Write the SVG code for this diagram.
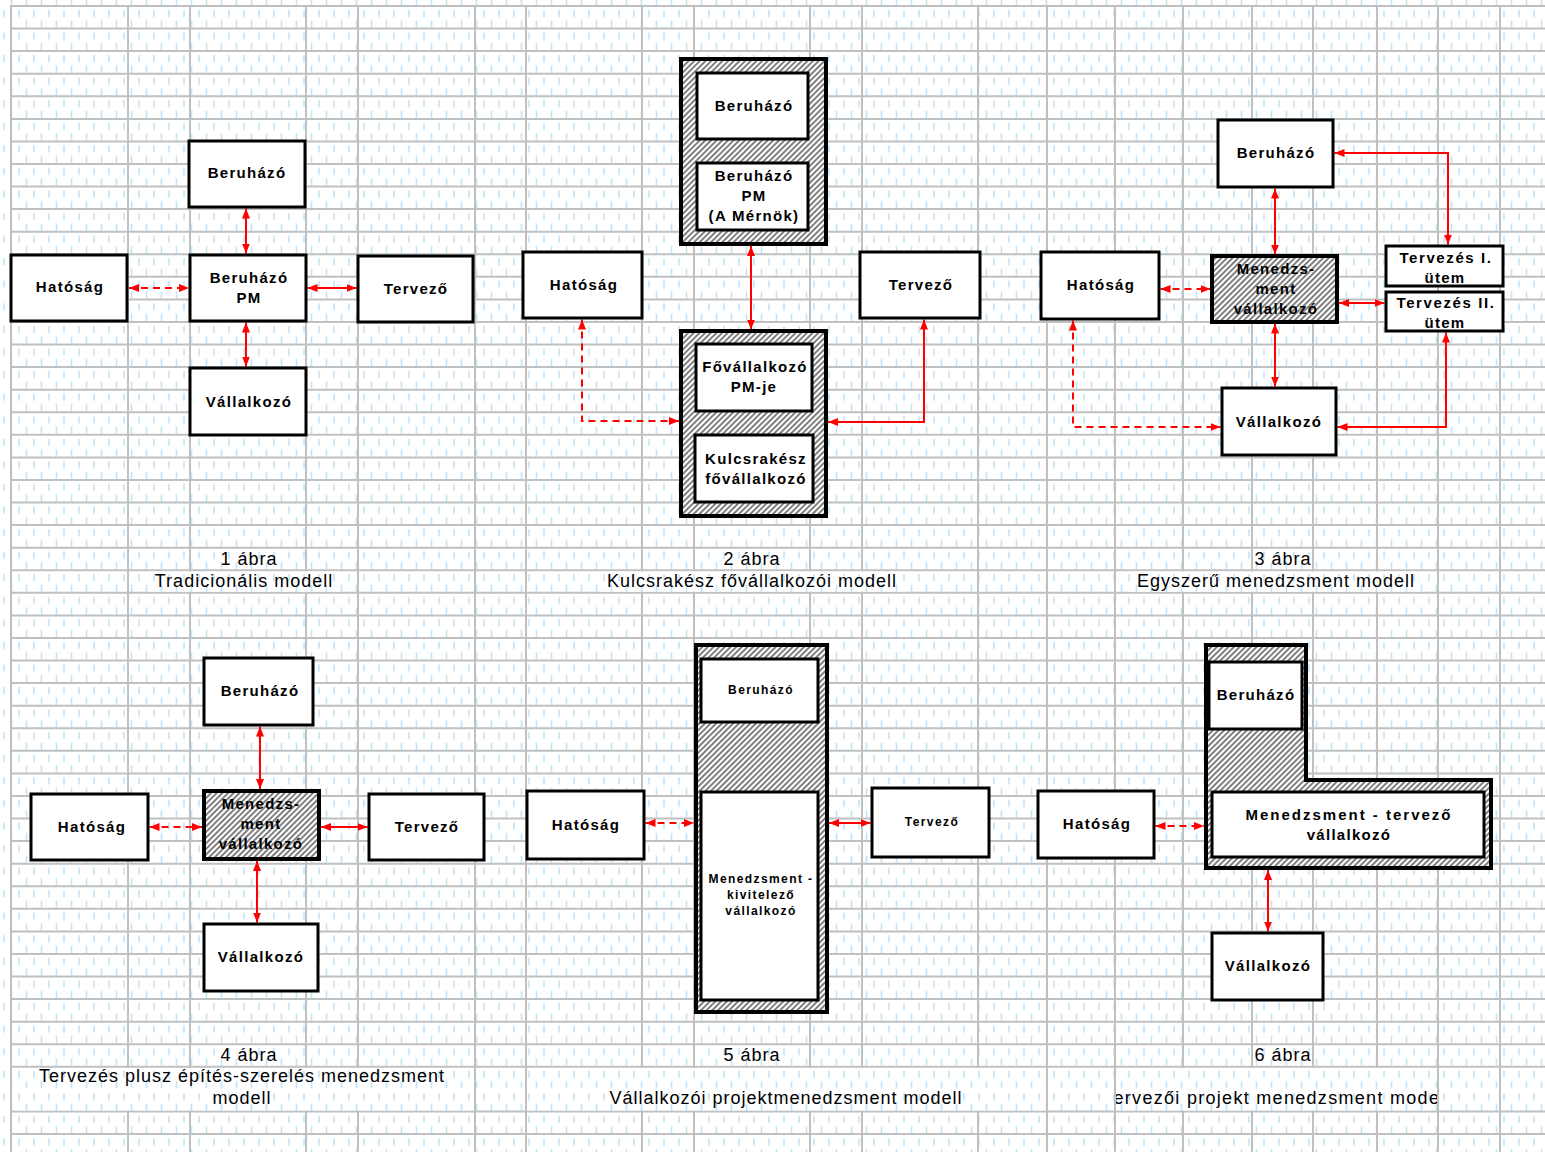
<svg xmlns="http://www.w3.org/2000/svg" width="1545" height="1152" viewBox="0 0 1545 1152">
<defs>
<pattern id="bg" width="15" height="22.57" patternUnits="userSpaceOnUse" x="0" y="6">
<rect width="15" height="22.57" fill="#fff"/>
<path d="M4,4 v7 M11.5,14.5 v7" stroke="#c4e4f8" stroke-width="1.6"/>
</pattern>
<pattern id="hatch" width="4" height="4" patternUnits="userSpaceOnUse" patternTransform="rotate(45)">
<rect width="4" height="4" fill="#fff"/>
<line x1="2" y1="0" x2="2" y2="4" stroke="#222" stroke-width="1.15"/>
</pattern>
<marker id="ah" viewBox="0 0 10 8" refX="10" refY="4" markerWidth="10" markerHeight="8" markerUnits="userSpaceOnUse" orient="auto-start-reverse">
<path d="M0,0 L10,4 L0,8 z" fill="#f00"/>
</marker>
<clipPath id="clip6"><rect x="1116" y="1068" width="321" height="43"/></clipPath>
<style>
.grid{stroke:#c0c0c0;stroke-width:2;fill:none}
.box{fill:#fff;stroke:#000;stroke-width:3}
.hbox{fill:url(#hatch);stroke:#000;stroke-width:4}
.lbl{font-family:"Liberation Sans",Arial,sans-serif;font-weight:bold;font-size:15px;letter-spacing:1.3px;text-anchor:middle;dominant-baseline:central;fill:#000}
.sm{font-size:12px;letter-spacing:1.4px}
.cap{font-family:"Liberation Sans",Arial,sans-serif;font-size:18px;letter-spacing:1px;text-anchor:middle;fill:#000}
.con{fill:none;stroke:#f00;stroke-width:2;marker-start:url(#ah);marker-end:url(#ah)}
.dash{stroke-dasharray:7 5}
.mask{fill:url(#bg);stroke:none}
</style>
</defs>

<g id="background">
<rect width="1545" height="1152" fill="url(#bg)"/>
<path class="grid" d="M11,6 H1545 M11,28.6 H1545 M11,51.1 H1545 M11,73.7 H1545 M11,96.3 H1545 M11,118.9 H1545 M11,141.4 H1545 M11,164 H1545 M11,186.6 H1545 M11,209.1 H1545 M11,231.7 H1545 M11,254.3 H1545 M11,276.8 H1545 M11,299.4 H1545 M11,322 H1545 M11,344.6 H1545 M11,367.1 H1545 M11,389.7 H1545 M11,412.3 H1545 M11,434.8 H1545 M11,457.4 H1545 M11,480 H1545 M11,502.5 H1545 M11,525.1 H1545 M11,547.7 H1545 M11,570.3 H1545 M11,592.8 H1545 M11,615.4 H1545 M11,638 H1545 M11,660.5 H1545 M11,683.1 H1545 M11,705.7 H1545 M11,728.2 H1545 M11,750.8 H1545 M11,773.4 H1545 M11,796 H1545 M11,818.5 H1545 M11,841.1 H1545 M11,863.7 H1545 M11,886.2 H1545 M11,908.8 H1545 M11,931.4 H1545 M11,953.9 H1545 M11,976.5 H1545 M11,999.1 H1545 M11,1021.7 H1545 M11,1044.2 H1545 M11,1066.8 H1545 M11,1111.5 H1545 M11,1134 H1545"/>
<path class="grid" d="M11,5 V1152 M128,5 V1152 M190,5 V1152 M306,5 V1152 M358,5 V1152 M475,5 V1152 M526,5 V1152 M642,5 V1152 M694,5 V1152 M810,5 V1152 M862,5 V1152 M978,5 V1152 M1047,5 V1152 M1115,5 V1152 M1183,5 V1152 M1252,5 V1152 M1313,5 V1152 M1377,5 V1152 M1438,5 V1152 M1500,5 V1152"/>
<rect class="mask" x="150" y="571.5" width="190" height="20.2"/>
<rect class="mask" x="600" y="571.5" width="305" height="20.2"/>
<rect class="mask" x="1128" y="571.5" width="296" height="20.2"/>
<rect class="mask" x="12.2" y="1068" width="461.6" height="42.4"/>
<rect class="mask" x="527.2" y="1068" width="518.6" height="42.4"/>
<rect class="mask" x="1116.2" y="1068" width="320.6" height="42.4"/>
</g>

<g id="captions">
<text class="cap" x="249" y="565">1 ábra</text>
<text class="cap" x="244" y="587">Tradicionális modell</text>
<text class="cap" x="752" y="565">2 ábra</text>
<text class="cap" x="752" y="587">Kulcsrakész fővállalkozói modell</text>
<text class="cap" x="1283" y="565">3 ábra</text>
<text class="cap" x="1276" y="587">Egyszerű menedzsment modell</text>
<text class="cap" x="249" y="1061">4 ábra</text>
<text class="cap" x="242" y="1082">Tervezés plusz építés-szerelés menedzsment</text>
<text class="cap" x="242" y="1104">modell</text>
<text class="cap" x="752" y="1061">5 ábra</text>
<text class="cap" x="786" y="1104">Vállalkozói projektmenedzsment modell</text>
<text class="cap" x="1283" y="1061">6 ábra</text>
<text class="cap" style="letter-spacing:1.3px" x="1277" y="1104" clip-path="url(#clip6)">Tervezői projekt menedzsment modell</text>
</g>

<g id="connectors">
<path class="con" d="M246,208.5 V253.5"/>
<path class="con dash" d="M129,288 H189"/>
<path class="con" d="M307.5,288 H356.5"/>
<path class="con" d="M246,322.5 V366.5"/>
<path class="con" d="M751,246 V329.5"/>
<path class="con dash" d="M582,319.5 V421 H679"/>
<path class="con" d="M924,319.5 V422 H828"/>
<path class="con" d="M1275,188.5 V254.5"/>
<path class="con" d="M1275,323.5 V386.5"/>
<path class="con dash" d="M1160.5,289 H1210.5"/>
<path class="con" d="M1339,303 H1384.5"/>
<path class="con" d="M1334.5,153 H1448 V244.5"/>
<path class="con" d="M1337.5,427 H1446 V332.5"/>
<path class="con dash" d="M1073,320.5 V427 H1220.5"/>
<path class="con" d="M260,726.5 V789"/>
<path class="con" d="M257,861 V922.5"/>
<path class="con dash" d="M149.5,827 H202"/>
<path class="con" d="M321,827 H367.5"/>
<path class="con dash" d="M645.5,823 H694"/>
<path class="con" d="M829,823 H870.5"/>
<path class="con dash" d="M1155.5,826 H1204"/>
<path class="con" d="M1268,870 V931.5"/>
</g>

<g id="d1-beruhazo"><rect class="box" x="189" y="141" width="116" height="66"/><text class="lbl" x="247" y="172">Beruházó</text></g>
<g id="d1-hatosag"><rect class="box" x="11" y="255" width="116" height="66"/><text class="lbl" x="70" y="286">Hatóság</text></g>
<g id="d1-pm"><rect class="box" x="190" y="255" width="116" height="66"/><text class="lbl" x="249" y="277">Beruházó</text><text class="lbl" x="249" y="297">PM</text></g>
<g id="d1-tervezo"><rect class="box" x="358" y="256" width="115" height="66"/><text class="lbl" x="416" y="288">Tervező</text></g>
<g id="d1-vallalkozo"><rect class="box" x="190" y="368" width="116" height="67"/><text class="lbl" x="249" y="401">Vállalkozó</text></g>

<g id="d2-megrendelo">
<rect class="hbox" x="681" y="59" width="145" height="185"/>
<rect class="box" x="697" y="73" width="111" height="66"/><text class="lbl" x="754" y="105">Beruházó</text>
<rect class="box" x="697" y="163" width="111" height="67"/><text class="lbl" x="754" y="175">Beruházó</text><text class="lbl" x="754" y="195">PM</text><text class="lbl" x="754" y="215">(A Mérnök)</text>
</g>
<g id="d2-hatosag"><rect class="box" x="523" y="252" width="119" height="66"/><text class="lbl" x="584" y="284">Hatóság</text></g>
<g id="d2-tervezo"><rect class="box" x="860" y="252" width="120" height="66"/><text class="lbl" x="921" y="284">Tervező</text></g>
<g id="d2-fovallalkozo">
<rect class="hbox" x="681" y="331" width="145" height="185"/>
<rect class="box" x="696" y="344" width="116" height="67"/><text class="lbl" x="755" y="366">Fővállalkozó</text><text class="lbl" x="754" y="386">PM-je</text>
<rect class="box" x="695" y="435" width="118" height="67"/><text class="lbl" x="756" y="458">Kulcsrakész</text><text class="lbl" x="756" y="478">fővállalkozó</text>
</g>

<g id="d3-beruhazo"><rect class="box" x="1218" y="120" width="115" height="67"/><text class="lbl" x="1276" y="152">Beruházó</text></g>
<g id="d3-hatosag"><rect class="box" x="1041" y="252" width="118" height="67"/><text class="lbl" x="1101" y="284">Hatóság</text></g>
<g id="d3-menedzsment"><rect class="hbox" x="1212" y="256" width="125" height="66"/><text class="lbl" x="1276" y="268">Menedzs-</text><text class="lbl" x="1276" y="288">ment</text><text class="lbl" x="1276" y="308">vállalkozó</text></g>
<g id="d3-tervezes1"><rect class="box" x="1386" y="246" width="117" height="40"/><text class="lbl" style="letter-spacing:1.6px" x="1446" y="257">Tervezés I.</text><text class="lbl" x="1445" y="277">ütem</text></g>
<g id="d3-tervezes2"><rect class="box" x="1386" y="292" width="117" height="39"/><text class="lbl" style="letter-spacing:1.6px" x="1446" y="302">Tervezés II.</text><text class="lbl" x="1445" y="322">ütem</text></g>
<g id="d3-vallalkozo"><rect class="box" x="1222" y="388" width="114" height="67"/><text class="lbl" x="1279" y="421">Vállalkozó</text></g>

<g id="d4-beruhazo"><rect class="box" x="204" y="658" width="109" height="67"/><text class="lbl" x="260" y="690">Beruházó</text></g>
<g id="d4-hatosag"><rect class="box" x="31" y="794" width="117" height="66"/><text class="lbl" x="92" y="826">Hatóság</text></g>
<g id="d4-menedzsment"><rect class="hbox" x="204" y="791" width="115" height="68"/><text class="lbl" x="261" y="803">Menedzs-</text><text class="lbl" x="261" y="823">ment</text><text class="lbl" x="261" y="843">vállalkozó</text></g>
<g id="d4-tervezo"><rect class="box" x="369" y="794" width="115" height="66"/><text class="lbl" x="427" y="826">Tervező</text></g>
<g id="d4-vallalkozo"><rect class="box" x="204" y="924" width="114" height="67"/><text class="lbl" x="261" y="956">Vállalkozó</text></g>

<g id="d5-hatosag"><rect class="box" x="527" y="791" width="117" height="68"/><text class="lbl" x="586" y="824">Hatóság</text></g>
<g id="d5-menedzsment">
<rect class="hbox" x="696" y="645" width="131" height="367"/>
<rect class="box" x="701" y="659" width="117" height="63"/><text class="lbl sm" x="761" y="690">Beruházó</text>
<rect class="box" x="701" y="792" width="117" height="208"/><text class="lbl sm" x="761" y="879">Menedzsment -</text><text class="lbl sm" x="761" y="895">kivitelező</text><text class="lbl sm" x="761" y="911">vállalkozó</text>
</g>
<g id="d5-tervezo"><rect class="box" x="872" y="788" width="117" height="69"/><text class="lbl sm" x="932" y="822">Tervező</text></g>

<g id="d6-hatosag"><rect class="box" x="1038" y="791" width="116" height="67"/><text class="lbl" x="1097" y="823">Hatóság</text></g>
<g id="d6-menedzsment">
<path class="hbox" d="M1206,645 H1306 V780 H1491 V868 H1206 Z"/>
<rect class="box" x="1209" y="662" width="93" height="67"/><text class="lbl" x="1256" y="694">Beruházó</text>
<rect class="box" x="1212" y="792" width="272" height="65"/><text class="lbl" style="letter-spacing:2px" x="1349" y="814">Menedzsment - tervező</text><text class="lbl" x="1349" y="834">vállalkozó</text>
</g>
<g id="d6-vallalkozo"><rect class="box" x="1212" y="933" width="111" height="67"/><text class="lbl" x="1268" y="965">Vállalkozó</text></g>
</svg>
